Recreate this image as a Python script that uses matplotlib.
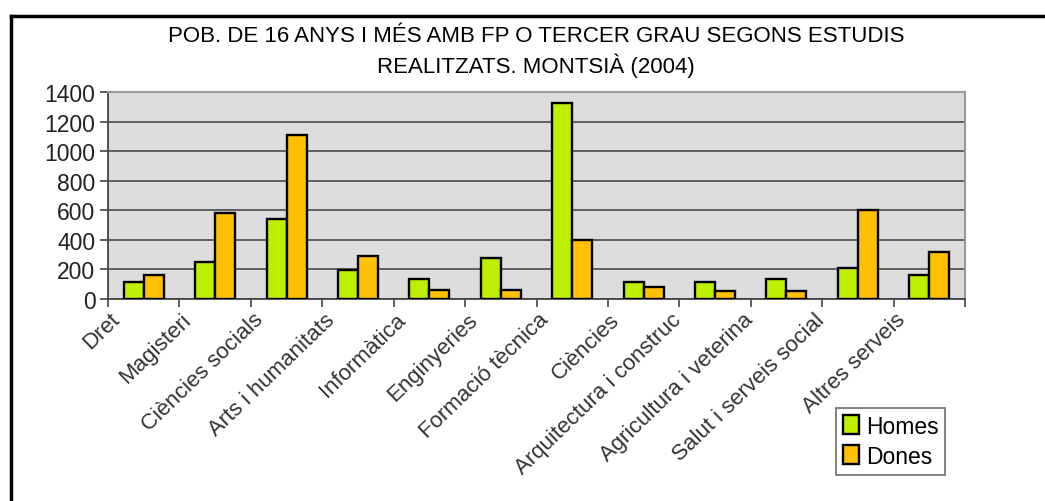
import numpy as np
import matplotlib
matplotlib.use("Agg")
import matplotlib.pyplot as plt
from matplotlib.lines import Line2D
from matplotlib.transforms import ScaledTranslation

# data
estudis = ["Dret", "Magisteri", "Ciències socials", "Arts i humanitats",
           "Informàtica", "Enginyeries", "Formació tècnica", "Ciències",
           "Arquitectura i construc", "Agricultura i veterina",
           "Salut i serveis social", "Altres serveis"]
homes = [113, 253, 542, 196, 135, 275, 1325, 113, 113, 135, 210, 165]
dones = [165, 580, 1110, 293, 63, 63, 400, 84, 52, 52, 603, 316]
yticks = [0, 200, 400, 600, 800, 1000, 1200, 1400]
# labels cut off in the original end at the category edge
tallades = ["Arquitectura i construc", "Agricultura i veterina", "Salut i serveis social"]

titol = "POB. DE 16 ANYS I MÉS AMB FP O TERCER GRAU SEGONS ESTUDIS\nREALITZATS. MONTSIÀ (2004)"

plt.rcParams['font.family'] = ['Liberation Sans', 'DejaVu Sans']

W, H = 1045, 502
fig = plt.figure(figsize=(W / 100, H / 100), dpi=100)

# frame lines of the original picture
fig.add_artist(Line2D([11 / W, 11 / W], [0, 1 - 17 / H], color='black', lw=2.5,
                      transform=fig.transFigure))
fig.add_artist(Line2D([11 / W, 1], [1 - 17 / H, 1 - 17 / H], color='black', lw=2.5,
                      transform=fig.transFigure))

ax = fig.add_axes([108 / W, 1 - 300 / H, 857 / W, 207 / H])
ax.set_facecolor('#DDDDDD')

x = np.arange(len(estudis))
w = 0.28
ax.bar(x - w / 2, homes, w, color='#BFEF00', edgecolor='black', lw=1.7,
       label='Homes', zorder=3)
ax.bar(x + w / 2, dones, w, color='#FFC000', edgecolor='black', lw=1.7,
       label='Dones', zorder=3)

ax.set_xlim(-0.5, len(estudis) - 0.5)
ax.set_ylim(0, 1400)
ax.set_yticks(yticks)
ax.set_yticklabels([str(v) for v in yticks], fontsize=16.5, color='#222222')
ax.yaxis.grid(True, color='#555555', lw=1.3, zorder=0)
ax.tick_params(axis='y', length=6, width=1.2, color='#444444', pad=3)

# ticks at category boundaries, labels at centres
ax.set_xticks(np.arange(len(estudis) + 1) - 0.5)
ax.set_xticklabels([])
ax.tick_params(axis='x', which='major', length=6, width=1.2, color='#444444')
ax.set_xticks(x, minor=True)
ax.set_xticklabels(estudis, minor=True, rotation=44, ha='right',
                   rotation_mode='anchor', fontsize=16, color='#333333')
ax.tick_params(axis='x', which='minor', length=0, pad=7)
for lab in ax.get_xticklabels(minor=True):
    dx = -44 if lab.get_text() in tallades else -34
    lab.set_transform(lab.get_transform() +
                      ScaledTranslation(dx / 100, 0, fig.dpi_scale_trans))

for s in ['top', 'right']:
    ax.spines[s].set_color('#999999')
    ax.spines[s].set_linewidth(1.5)
ax.spines['left'].set_color('#444444')
ax.spines['bottom'].set_color('#444444')
ax.spines['left'].set_linewidth(1.3)
ax.spines['bottom'].set_linewidth(1.3)

fig.text(536 / W, 1 - 52 / H, titol, ha='center', va='center', fontsize=16,
         linespacing=1.35, color='black')

leg = fig.legend(loc='upper left', bbox_to_anchor=(836 / W, 1 - 409 / H),
                 fontsize=16.5, frameon=True, fancybox=False, edgecolor='#555555',
                 handlelength=0.7, handleheight=0.9, handletextpad=0.3,
                 borderpad=0.3, labelspacing=0.3, borderaxespad=0)
leg.get_frame().set_linewidth(1.3)

fig.savefig('out.png', dpi=100, facecolor='white')
